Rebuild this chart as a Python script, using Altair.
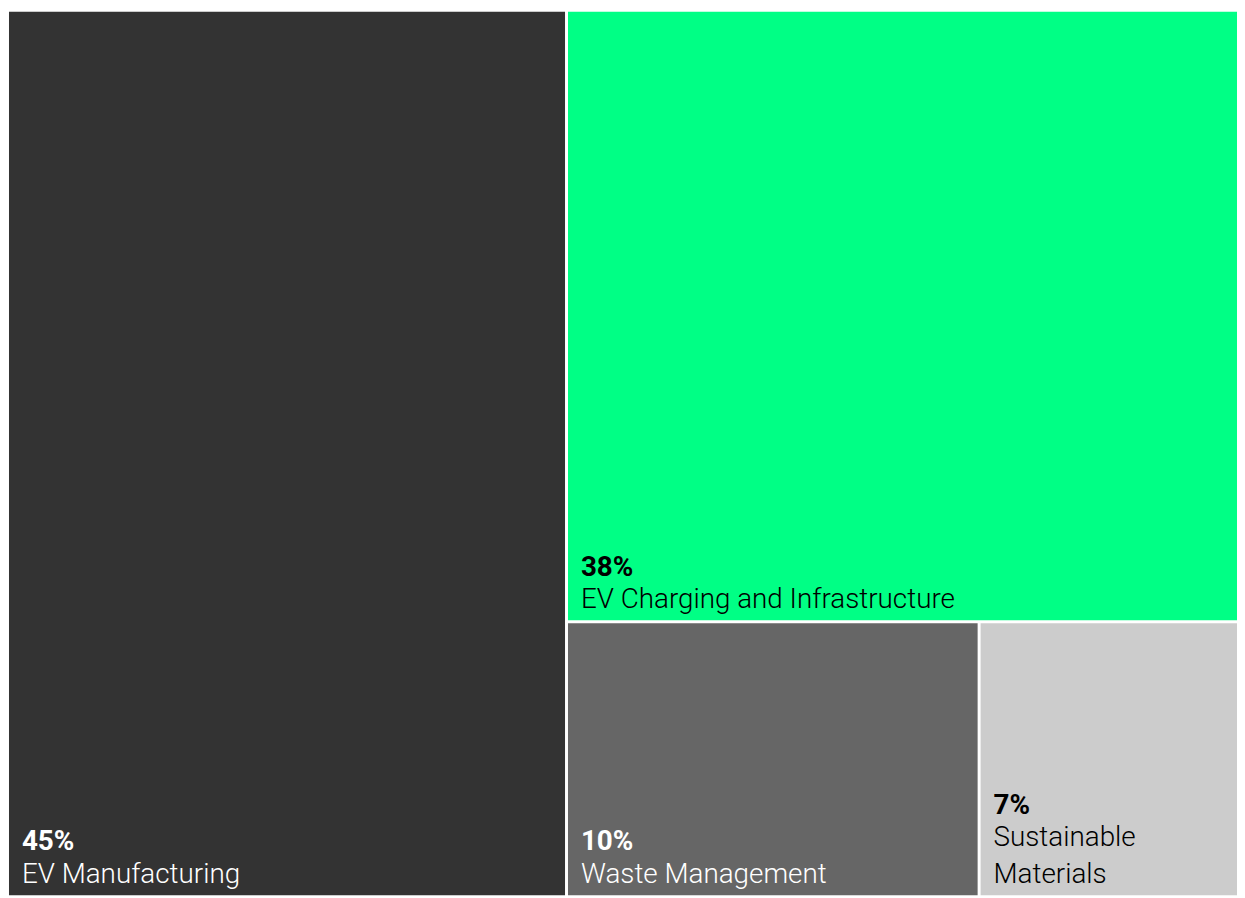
import altair as alt
import pandas as pd

# ---- data (areas) ----
categories = ["EV Manufacturing", "EV Charging and Infrastructure", "Waste Management", "Sustainable Materials"]
shares = [45.4, 37.7, 10.4, 6.5]
share_labels = ["45%", "38%", "10%", "7%"]
fill_colors = ["#333333", "#00ff85", "#666666", "#cccccc"]
label_colors = ["#ffffff", "#000000", "#ffffff", "#000000"]

# ---- layout parameters ----
W, H = 1236, 889
GAP = 3
INSET_X = 13
INSET_BOTTOM = 12
NAME_SIZE = 28
PCT_SIZE = 28
LINE_H = 37
PCT_ABOVE = 33


def worst(row, side):
    s = sum(row)
    return max(max(side * side * r / (s * s), (s * s) / (side * side * r)) for r in row)


def squarify(areas, x, y, w, h):
    rects = []
    areas = list(areas)
    while areas:
        side = min(w, h)
        row = [areas[0]]
        i = 1
        while i < len(areas) and worst(row + [areas[i]], side) <= worst(row, side):
            row.append(areas[i])
            i += 1
        areas = areas[i:]
        s = sum(row)
        if w >= h:
            cw = s / h
            yy = y
            for a in row:
                rh = a / cw
                rects.append((x, yy, x + cw, yy + rh))
                yy += rh
            x += cw
            w -= cw
        else:
            rh = s / w
            xx = x
            for a in row:
                rw = a / rh
                rects.append((xx, y, xx + rw, y + rh))
                xx += rw
            y += rh
            h -= rh
    return rects


total = sum(shares)
areas = [v / total * W * H for v in shares]
cells = squarify(areas, 0, 0, W, H)


def wrap(name, width):
    limit = width - 2 * INSET_X
    words = name.split(" ")
    lines, cur = [], ""
    for wd in words:
        trial = (cur + " " + wd).strip()
        if len(trial) * NAME_SIZE * 0.5 > limit and cur:
            lines.append(cur)
            cur = wd
        else:
            cur = trial
    lines.append(cur)
    return lines


rows = []
for name, lab, (x0, y0, x1, y1), fc, lc in zip(categories, share_labels, cells, fill_colors, label_colors):
    rx0 = x0 + (GAP / 2 if x0 > 0.5 else 0)
    ry0 = y0 + (GAP / 2 if y0 > 0.5 else 0)
    rx1 = x1 - (GAP / 2 if x1 < W - 0.5 else 0)
    ry1 = y1 - (GAP / 2 if y1 < H - 0.5 else 0)
    lines = wrap(name, rx1 - rx0)
    first_base = ry1 - INSET_BOTTOM - (len(lines) - 1) * LINE_H
    rows.append(dict(
        name=name, label="\n".join(lines), pct=lab,
        x0=rx0, x1=rx1, y0=ry0, y1=ry1,
        tx=rx0 + INSET_X, ty_name=first_base, ty_pct=first_base - PCT_ABOVE,
        fill=fc, tcolor=lc,
    ))

df = pd.DataFrame(rows)

xs = alt.Scale(domain=[0, W], nice=False, zero=False)
ys = alt.Scale(domain=[0, H], nice=False, zero=False, reverse=True)

base = alt.Chart(df)

rects = base.mark_rect(strokeWidth=0).encode(
    x=alt.X("x0:Q", scale=xs, axis=None),
    x2="x1:Q",
    y=alt.Y("y0:Q", scale=ys, axis=None),
    y2="y1:Q",
    color=alt.Color("fill:N", scale=None),
    tooltip=["name:N", "pct:N"],
)

pct_text = base.mark_text(
    align="left", baseline="alphabetic", font="Roboto", fontSize=PCT_SIZE, fontWeight="bold"
).encode(
    x=alt.X("tx:Q", scale=xs, axis=None),
    y=alt.Y("ty_pct:Q", scale=ys, axis=None),
    text="pct:N",
    color=alt.Color("tcolor:N", scale=None),
)

name_text = base.mark_text(
    align="left", baseline="alphabetic", font="Roboto", fontSize=NAME_SIZE, fontWeight=300,
    lineBreak="\n", lineHeight=LINE_H,
).encode(
    x=alt.X("tx:Q", scale=xs, axis=None),
    y=alt.Y("ty_name:Q", scale=ys, axis=None),
    text="label:N",
    color=alt.Color("tcolor:N", scale=None),
)

chart = alt.layer(rects, pct_text, name_text).properties(
    width=W, height=H,
    padding={"left": 1, "top": 1, "right": 0, "bottom": 0},
    background="#ffffff",
).configure_view(stroke=None)

chart.save("out.html", embed_options={"renderer": "svg", "actions": False})
